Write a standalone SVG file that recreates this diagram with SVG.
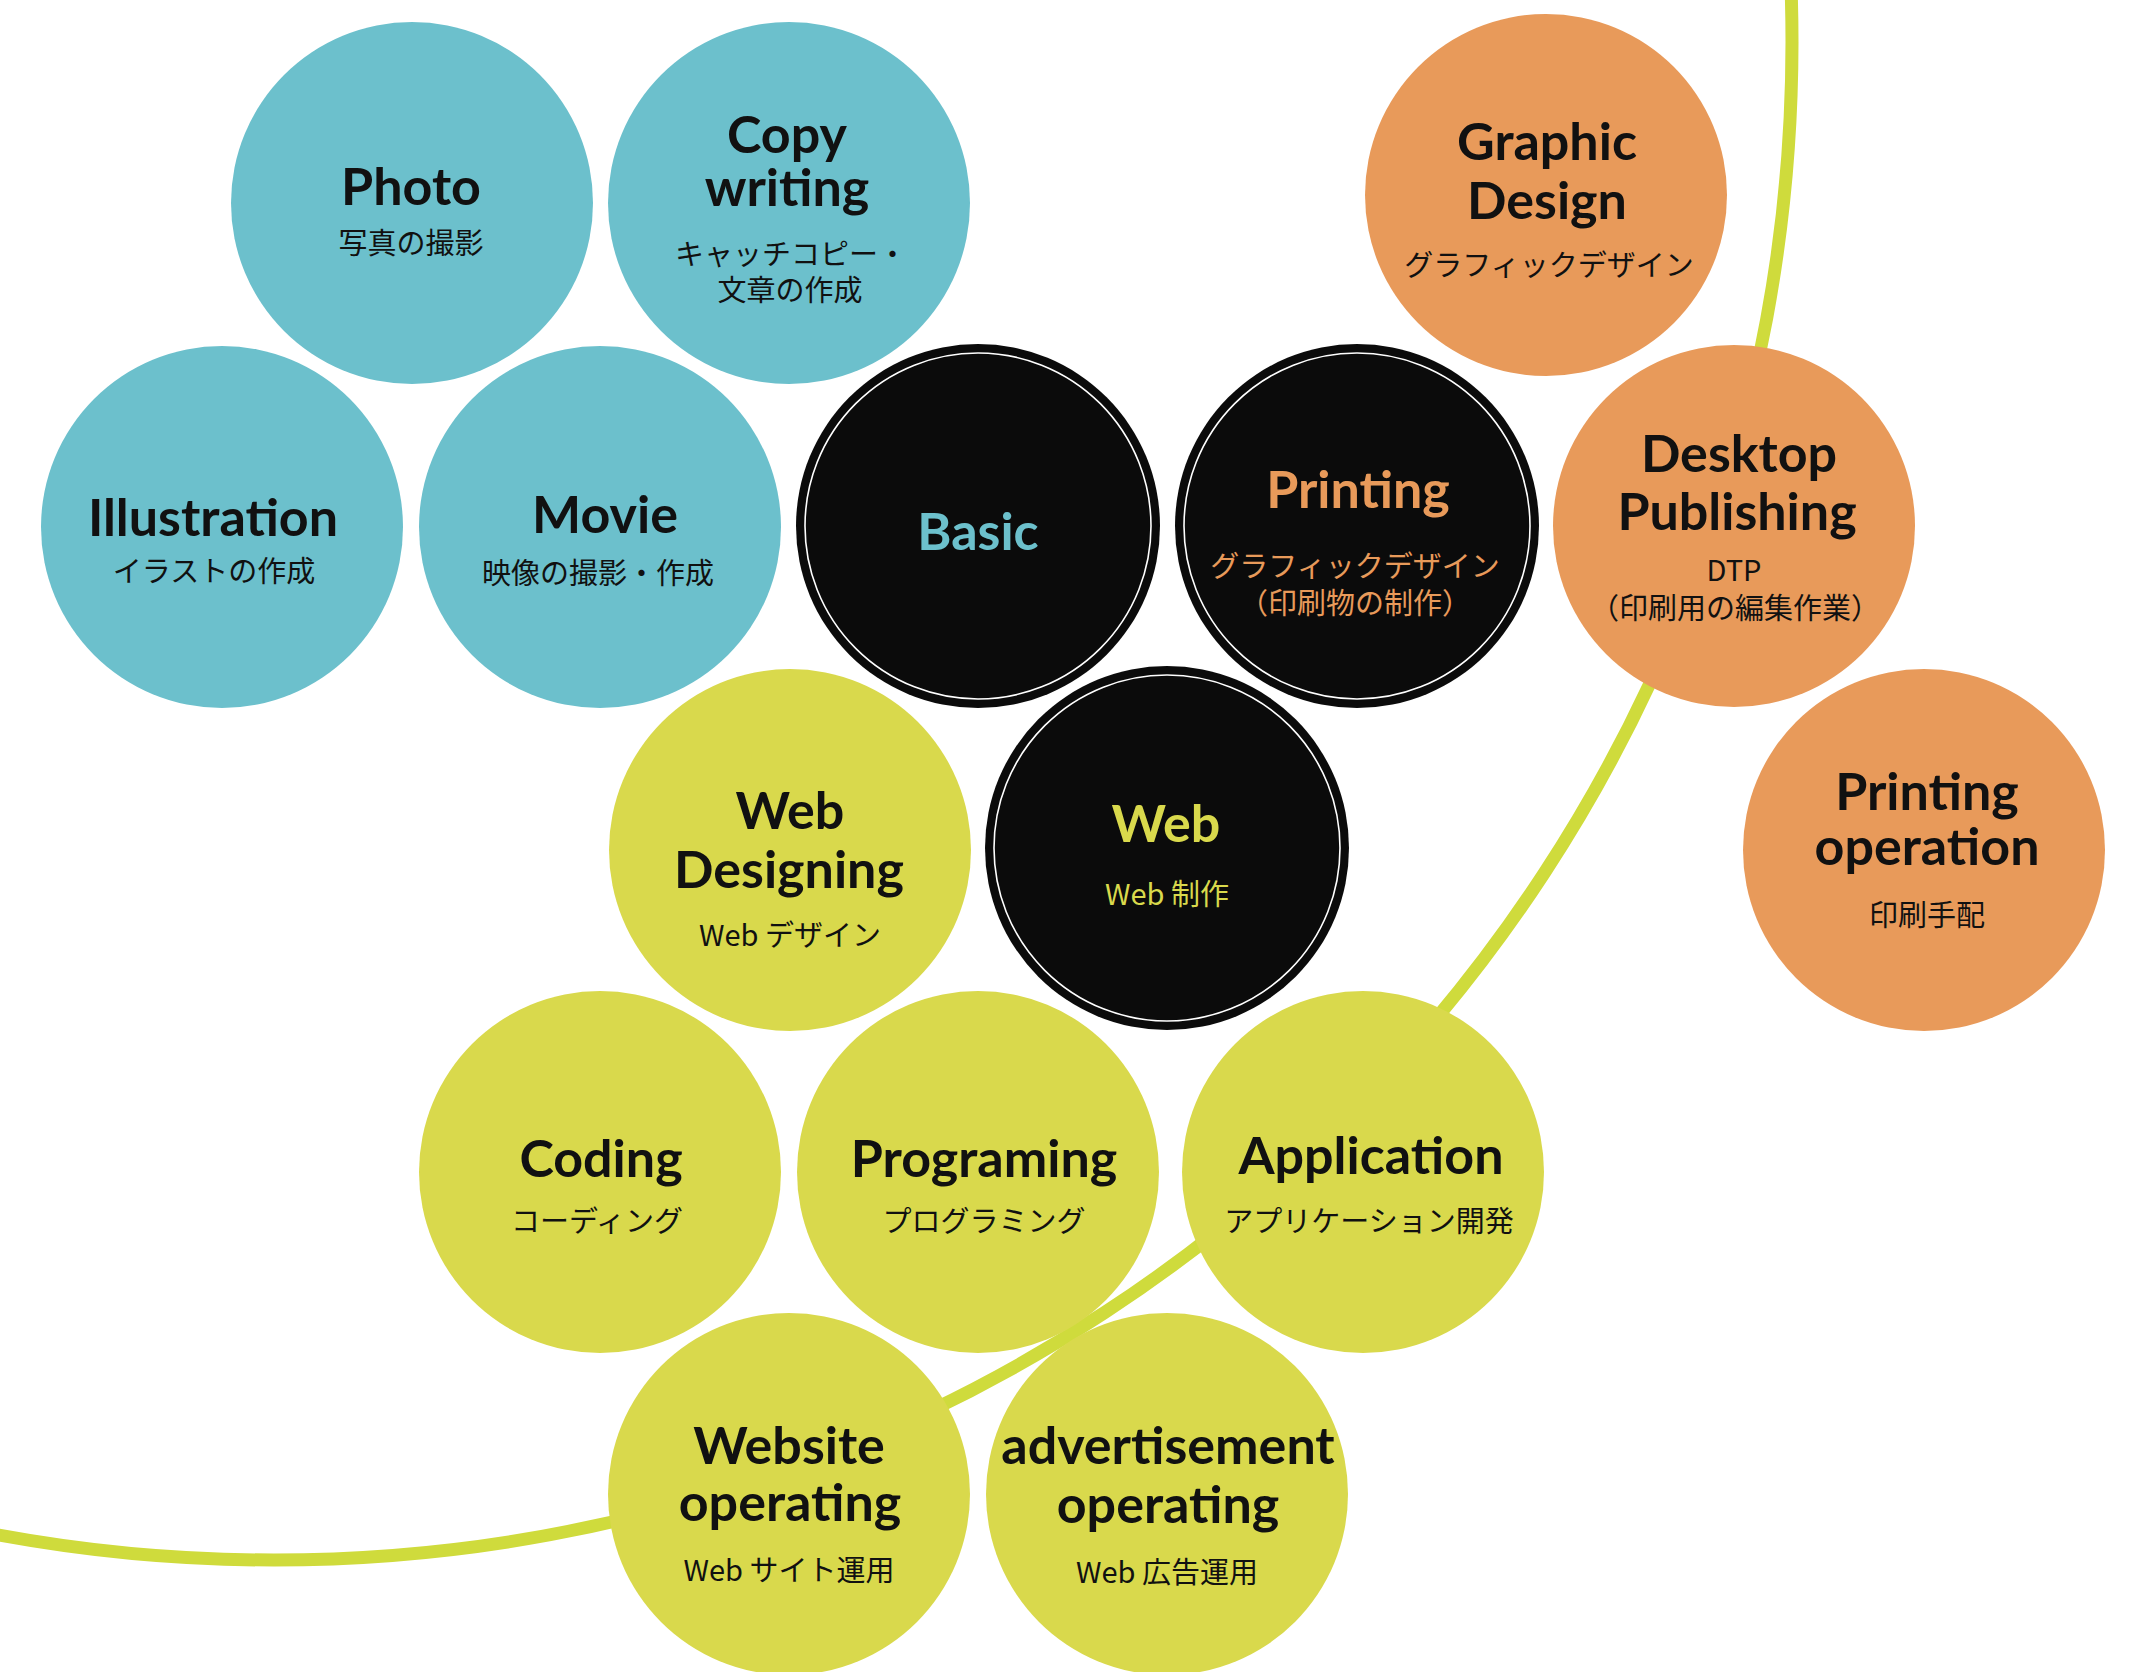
<svg xmlns="http://www.w3.org/2000/svg" width="2146" height="1672" viewBox="0 0 2146 1672">
<style>
.blue{fill:#6cc0cc}
.orange{fill:#e89a5a}
.yellow{fill:#d9d94c}
.black{fill:#0b0b0b}
.ring{fill:none;stroke:#ffffff;stroke-width:1.6}
.t{font-family:Lato,"Liberation Sans",sans-serif;font-weight:700;font-size:52px;text-anchor:middle;fill:#111}
.j{font-family:"Noto Sans CJK JP","Noto Sans",sans-serif;font-weight:400;font-size:29px;text-anchor:middle;fill:#111}
.cb{fill:#6cc0cc}
.co{fill:#e89a5a}
.cy{fill:#d9d94c}
</style>
<rect x="0" y="0" width="2146" height="1672" fill="#ffffff"/>
<g id="connectors">
<circle cx="274" cy="42" r="1518" fill="none" stroke="#cfdb3c" stroke-width="13"/>
</g>
<g id="photo">
<circle class="blue" cx="412" cy="203" r="181"/>
<text class="t" x="411" y="205">Photo</text>
<text class="j" x="411" y="254">写真の撮影</text>
</g>
<g id="copywriting">
<circle class="blue" cx="789" cy="203" r="181"/>
<text class="t"><tspan x="787" y="153">Copy</tspan><tspan x="787" y="206">writing</tspan></text>
<text class="j"><tspan x="791" y="265">キャッチコピー・</tspan><tspan x="790" y="301">文章の作成</tspan></text>
</g>
<g id="illustration">
<circle class="blue" cx="222" cy="527" r="181"/>
<text class="t" x="213" y="536">Illustration</text>
<text class="j" x="214" y="582">イラストの作成</text>
</g>
<g id="movie">
<circle class="blue" cx="600" cy="527" r="181"/>
<text class="t" x="605" y="533">Movie</text>
<text class="j" x="598" y="584">映像の撮影・作成</text>
</g>
<g id="basic">
<circle class="black" cx="978" cy="526" r="182"/>
<circle class="ring" cx="978" cy="526" r="173"/>
<text class="t cb" x="978" y="550">Basic</text>
</g>
<g id="printing">
<circle class="black" cx="1357" cy="526" r="182"/>
<circle class="ring" cx="1357" cy="526" r="173"/>
<text class="t co" x="1358" y="508">Printing</text>
<text class="j co"><tspan x="1355" y="577">グラフィックデザイン</tspan><tspan x="1355" y="614">（印刷物の制作）</tspan></text>
</g>
<g id="graphicdesign">
<circle class="orange" cx="1546" cy="195" r="181"/>
<text class="t"><tspan x="1547" y="160">Graphic</tspan><tspan x="1547" y="219">Design</tspan></text>
<text class="j" x="1549" y="276">グラフィックデザイン</text>
</g>
<g id="dtp">
<circle class="orange" cx="1734" cy="526" r="181"/>
<text class="t"><tspan x="1739" y="472">Desktop</tspan><tspan x="1737" y="530">Publishing</tspan></text>
<text class="j"><tspan x="1734" y="581">DTP</tspan><tspan x="1735" y="619">（印刷用の編集作業）</tspan></text>
</g>
<g id="printingoperation">
<circle class="orange" cx="1924" cy="850" r="181"/>
<text class="t"><tspan x="1927" y="810">Printing</tspan><tspan x="1927" y="865">operation</tspan></text>
<text class="j" x="1927" y="926">印刷手配</text>
</g>
<g id="webdesigning">
<circle class="yellow" cx="790" cy="850" r="181"/>
<text class="t"><tspan x="790" y="829">Web</tspan><tspan x="789" y="888">Designing</tspan></text>
<text class="j" x="790" y="946">Web デザイン</text>
</g>
<g id="web">
<circle class="black" cx="1167" cy="848" r="182"/>
<circle class="ring" cx="1167" cy="848" r="173"/>
<text class="t cy" x="1166" y="842">Web</text>
<text class="j cy" x="1167" y="905">Web 制作</text>
</g>
<g id="coding">
<circle class="yellow" cx="600" cy="1172" r="181"/>
<text class="t" x="601" y="1177">Coding</text>
<text class="j" x="597" y="1232">コーディング</text>
</g>
<g id="programing">
<circle class="yellow" cx="978" cy="1172" r="181"/>
<text class="t" x="984" y="1177">Programing</text>
<text class="j" x="984" y="1232">プログラミング</text>
</g>
<g id="application">
<circle class="yellow" cx="1363" cy="1172" r="181"/>
<text class="t" x="1371" y="1174">Application</text>
<text class="j" x="1369" y="1232">アプリケーション開発</text>
</g>
<g id="websiteoperating">
<circle class="yellow" cx="789" cy="1494" r="181"/>
<text class="t"><tspan x="789" y="1464">Website</tspan><tspan x="790" y="1521">operating</tspan></text>
<text class="j" x="789" y="1581">Web サイト運用</text>
</g>
<g id="advertisementoperating">
<circle class="yellow" cx="1167" cy="1494" r="181"/>
<text class="t"><tspan x="1168" y="1464">advertisement</tspan><tspan x="1168" y="1523">operating</tspan></text>
<text class="j" x="1167" y="1583">Web 広告運用</text>
</g>
</svg>
